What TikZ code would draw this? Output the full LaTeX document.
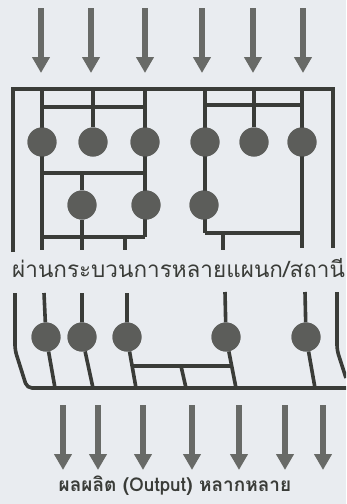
\documentclass[tikz,border=0pt]{standalone}
\usepackage{fontspec}
\newfontfamily\thaifont[Script=Thai]{Loma}
\usetikzlibrary{arrows.meta}
\definecolor{paper}{RGB}{233,236,240}
\definecolor{ink}{RGB}{58,60,56}
\definecolor{dot}{RGB}{92,93,90}
\definecolor{flow}{RGB}{104,106,103}

\tikzset{
  wire/.style={ink,line width=3.6pt},
  station/.style={circle,fill=dot,minimum size=29pt,inner sep=0pt},
  flowarrow/.style={flow,line width=6.5pt,-{Triangle[width=17pt,length=16pt]}},
}

\begin{document}
\begin{tikzpicture}[x=1pt,y=-1pt]
    \fill[paper] (0,0) rectangle (346,504);
    \useasboundingbox (0,0) rectangle (346,504);
    \clip (0,0) rectangle (346,504);
    % raw materials coming in
    \foreach \x in {41,91,145,202,253,303}
      \draw[flowarrow] (\x,8) -- (\x,73);
    % stations of the upper plant
    \foreach \x/\n in {42/a,93/b,145/c,205/d,254/e,302/f}
      \node[station] (\n) at (\x,142) {};
    \node[station] (g) at (82,205) {};
    \node[station] (h) at (146,205) {};
    \node[station] (k) at (204,205) {};
    % frame and routings (drawn under the stations)
    \begin{scope}[wire]
      \draw (13,252) -- (13,89) -- (333,89) -- (333,248);
      \draw (42,89) -- (42,250);
      \draw (93,89) -- (b);
      \draw (145,89) -- (145,237);
      \draw (42,107) -- (145,107);
      \draw (42,173) -- (145,173);
      \draw (82,173) -- (g) -- (82,250);
      \draw (42,237) -- (145,237);
      \draw (125,237) -- (125,250);
      \draw (205,89) -- (205,233);
      \draw (254,89) -- (e);
      \draw (302,89) -- (302,248);
      \draw (205,105) -- (302,105);
      \draw (205,233) -- (302,233);
      \draw (223,233) -- (223,250);
    \end{scope}
    \foreach \n in {a,b,c,d,e,f,g,h,k}
      \fill[dot] (\n) circle (14.5pt);
    \node[anchor=west,font=\thaifont\fontsize{22.5}{26}\selectfont,text=ink,inner sep=0pt]
      (steps) at (12,268) {ผ่านกระบวนการหลายแผนก/สถานี};
    % lower plant
    \foreach \x/\n in {46/p,82/q,127/r,226/s,306/t}
      \node[station] (\n) at (\x,337) {};
    \begin{scope}[wire,rounded corners=5pt]
      \draw (15,293) -- (15,350) -- (27,388) -- (350,388);
      \draw (337,292) -- (337,350) -- (346,378);
    \end{scope}
    \begin{scope}[wire]
      \draw (44,293) -- (p) -- (55,388);
      \draw (82,293) -- (q) -- (93,388);
      \draw (127,293) -- (r) -- (136,388);
      \draw (225,292) -- (s) -- (236,388);
      \draw (305,292) -- (t) -- (315,388);
      \draw (132,366) -- (232,366);
      \draw (181,366) -- (186,388);
    \end{scope}
    \foreach \n in {p,q,r,s,t}
      \fill[dot] (\n) circle (14.5pt);
    % varied products going out
    \foreach \x in {63,98,143,192,239,285,323}
      \draw[flowarrow] (\x,405) -- (\x,470);
    \node[font=\thaifont\bfseries\fontsize{19}{22}\selectfont,text=ink]
      (products) at (175,486) {ผลผลิต (Output) หลากหลาย};
\end{tikzpicture}
\end{document}
